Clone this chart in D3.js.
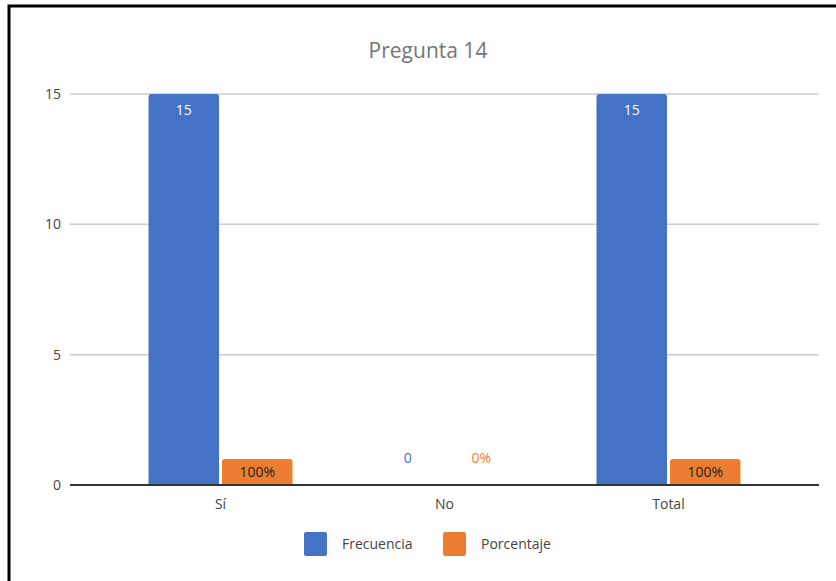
<!DOCTYPE html>
<html>
<head>
<meta charset="utf-8">
<script src="https://cdn.jsdelivr.net/npm/d3@7"></script>
<style>
  html, body { margin: 0; padding: 0; background: #fff; }
  svg { display: block; font-family: "Open Sans", sans-serif; }
</style>
</head>
<body>
<svg id="chart" width="836" height="581"></svg>
<script>
// Survey answers for question 14
const categories = ["Sí", "No", "Total"];
const seriesNames = ["Frecuencia", "Porcentaje"];
const frecuencia = [15, 0, 15];
const porcentaje = [1, 0, 1];          // shares (1 = 100%)
const porcentajeLabels = ["100%", "0%", "100%"];
const yTicks = [0, 5, 10, 15];
const colors = ["#4472C4", "#ED7D31"];

const svg = d3.select("#chart");

// Frame around the chart
svg.append("path")
  .attr("d", "M9,581 V6 H836")
  .attr("fill", "none").attr("stroke", "#000").attr("stroke-width", 3);

const plotLeft = 70, plotRight = 819, plotTop = 94, plotBottom = 485;

const y = d3.scaleLinear().domain([0, 15]).range([plotBottom, plotTop]);
const x = d3.scalePoint().domain(categories).range([plotLeft, plotRight]).padding(0.672);
const inner = d3.scaleBand().domain(seriesNames).range([-72, 72]).paddingInner(0.04);

// Title
svg.append("text")
  .attr("x", 428).attr("y", 58)
  .attr("text-anchor", "middle")
  .attr("font-size", 21).attr("fill", "#757575")
  .text("Pregunta 14");

// Gridlines and y labels
const yAxis = svg.append("g");
yTicks.forEach(t => {
  yAxis.append("line")
    .attr("x1", plotLeft).attr("x2", plotRight)
    .attr("y1", y(t)).attr("y2", y(t))
    .attr("stroke", t === 0 ? "#333" : "#ccc")
    .attr("stroke-width", t === 0 ? 2 : 1.5);
  yAxis.append("text")
    .attr("x", 61).attr("y", y(t) + 5)
    .attr("text-anchor", "end")
    .attr("font-size", 14).attr("fill", "#444")
    .text(t);
});

// Rounded-top bar path
function barPath(x0, w, yTop, yBase, r) {
  const h = yBase - yTop;
  if (h <= 0) return "";
  r = Math.min(r, h, w / 2);
  return `M${x0},${yBase} V${yTop + r} Q${x0},${yTop} ${x0 + r},${yTop} H${x0 + w - r} Q${x0 + w},${yTop} ${x0 + w},${yTop + r} V${yBase} Z`;
}

const data = categories.map((c, i) => ({
  cat: c,
  vals: [
    { s: seriesNames[0], v: frecuencia[i], label: String(frecuencia[i]) },
    { s: seriesNames[1], v: porcentaje[i], label: porcentajeLabels[i] }
  ]
}));

const groups = svg.append("g").selectAll("g").data(data).join("g")
  .attr("transform", d => `translate(${x(d.cat)},0)`);

groups.selectAll("path").data(d => d.vals).join("path")
  .attr("d", d => barPath(inner(d.s), inner.bandwidth(), y(d.v), y(0) - 1, 3))
  .attr("fill", (d, i) => colors[i]);

// Value labels
groups.selectAll("text.val").data(d => d.vals).join("text")
  .attr("class", "val")
  .attr("x", d => inner(d.s) + inner.bandwidth() / 2)
  .attr("y", (d, i) => {
    if (d.v === 0) return y(0) - 22;
    return i === 0 ? y(d.v) + 21 : y(d.v) + 18;
  })
  .attr("text-anchor", "middle")
  .attr("font-size", 14)
  .attr("fill", (d, i) => d.v === 0 ? colors[i] : (i === 0 ? "#fff" : "#222"))
  .text(d => d.label);

// Category labels
svg.append("g").selectAll("text").data(categories).join("text")
  .attr("x", d => x(d)).attr("y", 509)
  .attr("text-anchor", "middle")
  .attr("font-size", 14).attr("fill", "#444")
  .text(d => d);

// Legend
const legendX = [304, 443];
const legend = svg.append("g").selectAll("g").data(seriesNames).join("g")
  .attr("transform", (d, i) => `translate(${legendX[i]},532)`);
legend.append("rect")
  .attr("width", 23).attr("height", 24).attr("rx", 2)
  .attr("fill", (d, i) => colors[i]);
legend.append("text")
  .attr("x", 38).attr("y", 17)
  .attr("font-size", 14).attr("fill", "#444")
  .text(d => d);
</script>
</body>
</html>
